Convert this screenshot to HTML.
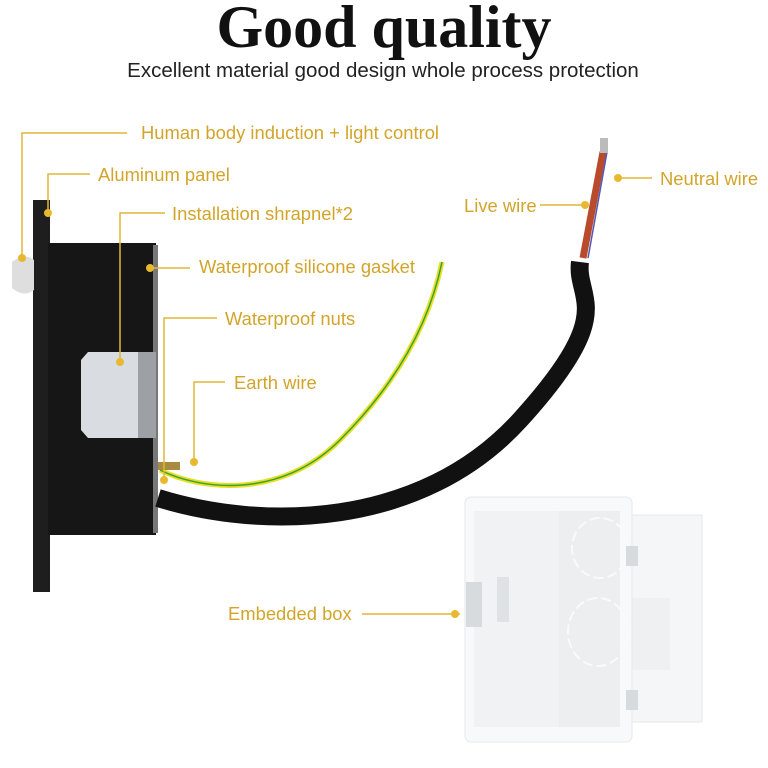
<!DOCTYPE html>
<html><head><style>
html,body{margin:0;padding:0;background:#fff;}
svg{display:block;}
text{font-family:"Liberation Sans",Arial,sans-serif;}
.l{font-size:18.4px;fill:#d2a52a;}
.ln{stroke:#e0b636;stroke-width:1.5;fill:none;}
.d{fill:#e8b92e;}
</style></head><body>
<svg width="768" height="768" viewBox="0 0 768 768" xmlns="http://www.w3.org/2000/svg">
<text x="384" y="47" text-anchor="middle" style="font-family:'Liberation Serif',serif;font-weight:bold;font-size:60px" fill="#111">Good quality</text>
<text x="383" y="77" text-anchor="middle" style="font-size:20.5px" fill="#222">Excellent material good design whole process protection</text>

<!-- box -->
<rect x="630" y="515" width="72" height="207" fill="#f5f6f7" stroke="#e6e8ea"/>
<rect x="630" y="598" width="40" height="72" fill="#eef0f2"/>
<rect x="465" y="497" width="167" height="245" rx="6" fill="#f8f9fa" stroke="#e6e8ea"/>
<rect x="474" y="511" width="146" height="216" fill="#eceef0"/>
<rect x="474" y="511" width="85" height="216" fill="#f0f2f4"/>
<ellipse cx="600" cy="548" rx="28" ry="30" fill="none" stroke="#fafafa" stroke-width="2" stroke-dasharray="10 4"/>
<ellipse cx="598" cy="632" rx="30" ry="34" fill="none" stroke="#fafafa" stroke-width="2" stroke-dasharray="10 4"/>
<rect x="466" y="582" width="16" height="45" fill="#d8dbde"/>
<rect x="497" y="577" width="12" height="45" fill="#dfe2e5"/>
<rect x="626" y="546" width="12" height="20" fill="#d8dbde"/>
<rect x="626" y="690" width="12" height="20" fill="#d8dbde"/>

<!-- device -->
<rect x="33" y="200" width="17" height="392" fill="#1e1e1e"/>
<rect x="48" y="243" width="108" height="292" fill="#161616"/>
<rect x="153" y="245" width="5" height="288" fill="#777"/>
<path d="M12 262 q12 -10 22 -2 v30 q-10 8 -22 -2 z" fill="#dedede"/>
<path d="M88 352 h68 v86 h-68 l-7 -8 v-70 z" fill="#d9dde1"/>
<rect x="138" y="352" width="18" height="86" fill="#9da1a5"/>

<!-- cables -->
<path d="M158 498 C260 530,420 530,520 420 S575 300,580 262" stroke="#111" stroke-width="18" fill="none"/>
<path d="M583 258 L603 152" stroke="#b94a2c" stroke-width="7" fill="none"/>
<path d="M588 258 L607 152" stroke="#5257b5" stroke-width="1.5" fill="none"/>
<rect x="600" y="138" width="8" height="15" fill="#bbb"/>
<path d="M160 470 C200 490,280 500,340 440 S430 320,442 262" stroke="#e6e020" stroke-width="5" fill="none"/>
<path d="M160 470 C200 490,280 500,340 440 S430 320,442 262" stroke="#3aa040" stroke-width="1.5" fill="none"/>
<rect x="158" y="462" width="22" height="8" fill="#a88a40"/>

<!-- leaders -->
<path class="ln" d="M127 133 H22 V258"/><circle class="d" cx="22" cy="258" r="4"/>
<path class="ln" d="M90 174 H48 V213"/><circle class="d" cx="48" cy="213" r="4"/>
<path class="ln" d="M165 213 H120 V362"/><circle class="d" cx="120" cy="362" r="4"/>
<path class="ln" d="M150 268 H190"/><circle class="d" cx="150" cy="268" r="4"/>
<path class="ln" d="M217 318 H164 V480"/><circle class="d" cx="164" cy="480" r="4"/>
<path class="ln" d="M225 382 H194 V462"/><circle class="d" cx="194" cy="462" r="4"/>
<path class="ln" d="M540 205 H585"/><circle class="d" cx="585" cy="205" r="4"/>
<path class="ln" d="M618 178 H652"/><circle class="d" cx="618" cy="178" r="4"/>
<path class="ln" d="M362 614 H460"/><circle class="d" cx="455" cy="614" r="4"/>

<text class="l" x="141" y="139">Human body induction + light control</text>
<text class="l" x="98" y="181">Aluminum panel</text>
<text class="l" x="172" y="220">Installation shrapnel*2</text>
<text class="l" x="199" y="273">Waterproof silicone gasket</text>
<text class="l" x="225" y="325">Waterproof nuts</text>
<text class="l" x="234" y="389">Earth wire</text>
<text class="l" x="464" y="212">Live wire</text>
<text class="l" x="660" y="185">Neutral wire</text>
<text class="l" x="228" y="620">Embedded box</text>
</svg>
</body></html>
